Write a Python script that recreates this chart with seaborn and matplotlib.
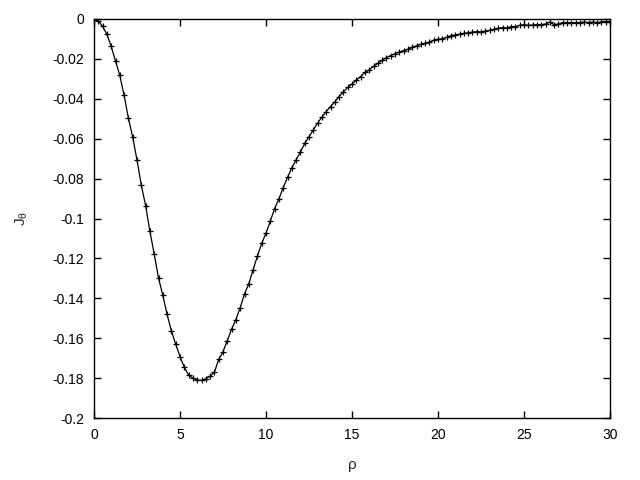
import numpy as np
import pandas as pd
import matplotlib
matplotlib.use("Agg")
import matplotlib.pyplot as plt
import seaborn as sns

j_theta = [
    0.0, -0.0009, -0.0037, -0.0077, -0.0137, -0.0210, -0.0283, -0.0383,
    -0.0497, -0.0592, -0.0707, -0.0833, -0.0935, -0.1064, -0.1178, -0.1298,
    -0.1385, -0.1481, -0.1564, -0.1630, -0.1692, -0.1746, -0.1785, -0.1800,
    -0.1810, -0.1811, -0.1803, -0.1790, -0.1771, -0.1706, -0.1668, -0.1612,
    -0.1555, -0.1507, -0.1447, -0.1378, -0.1327, -0.1257, -0.1189, -0.1125,
    -0.1073, -0.1014, -0.0950, -0.0902, -0.0845, -0.0794, -0.0746, -0.0706,
    -0.0667, -0.0624, -0.0590, -0.0556, -0.0521, -0.0492, -0.0464, -0.0439,
    -0.0415, -0.0389, -0.0364, -0.0343, -0.0326, -0.0306, -0.0289, -0.0268,
    -0.0255, -0.0238, -0.0222, -0.0207, -0.0193, -0.0183, -0.0174, -0.0166,
    -0.0158, -0.0152, -0.0142, -0.0134, -0.0127, -0.0122, -0.0116, -0.0106,
    -0.0102, -0.0099, -0.0092, -0.0083, -0.0080, -0.0076, -0.0072, -0.0069,
    -0.0066, -0.0063, -0.0065, -0.0061, -0.0057, -0.0052, -0.0047, -0.0043,
    -0.0045, -0.0038, -0.0038, -0.0032, -0.0028, -0.0032, -0.0030, -0.0028,
    -0.0028, -0.0025, -0.0016, -0.0028, -0.0025, -0.0018, -0.0018, -0.0018,
    -0.0018, -0.0018, -0.0015, -0.0018, -0.0015, -0.0018, -0.0015, -0.0013,
    -0.0013,
]
rho = np.linspace(0.0, 30.0, len(j_theta))

x_ticks = [0, 5, 10, 15, 20, 25, 30]
y_ticks = [0, -0.02, -0.04, -0.06, -0.08, -0.1, -0.12, -0.14, -0.16, -0.18, -0.2]
y_tick_labels = ["0", "-0.02", "-0.04", "-0.06", "-0.08", "-0.1", "-0.12",
                 "-0.14", "-0.16", "-0.18", "-0.2"]

df = pd.DataFrame({"rho": rho, "J": j_theta})

sns.set_style("ticks")
plt.rcParams["font.family"] = ["Liberation Sans", "DejaVu Sans"]
plt.rcParams["axes.unicode_minus"] = False
plt.rcParams["mathtext.fontset"] = "custom"
plt.rcParams["mathtext.rm"] = "Liberation Sans"
plt.rcParams["mathtext.it"] = "Liberation Sans"

fig = plt.figure(figsize=(6.4, 4.8), dpi=100)
ax = fig.add_axes([94 / 640, 62 / 480, 516 / 640, 399 / 480])

sns.lineplot(data=df, x="rho", y="J", ax=ax, color="black", linewidth=0.9,
             marker="+", markersize=4, markeredgewidth=0.9,
             markeredgecolor="black")

ax.set_xlim(0, 30)
ax.set_ylim(-0.2, 0)
ax.set_xticks(x_ticks)
ax.set_xticklabels([str(t) for t in x_ticks])
ax.set_yticks(y_ticks)
ax.set_yticklabels(y_tick_labels)

for s in ax.spines.values():
    s.set_visible(True)
    s.set_linewidth(1.0)
    s.set_color("black")

ax.tick_params(direction="in", length=5, width=1, top=True, right=True,
               labelsize=10, colors="black", pad=7)

ax.set_xlabel("ρ", fontsize=11)
ax.set_ylabel(r"J$_{\theta}$", fontsize=11)
ax.xaxis.set_label_coords(0.5, -0.10)
ax.yaxis.set_label_coords(-0.125, 0.5)

fig.savefig("out.png", dpi=100)
